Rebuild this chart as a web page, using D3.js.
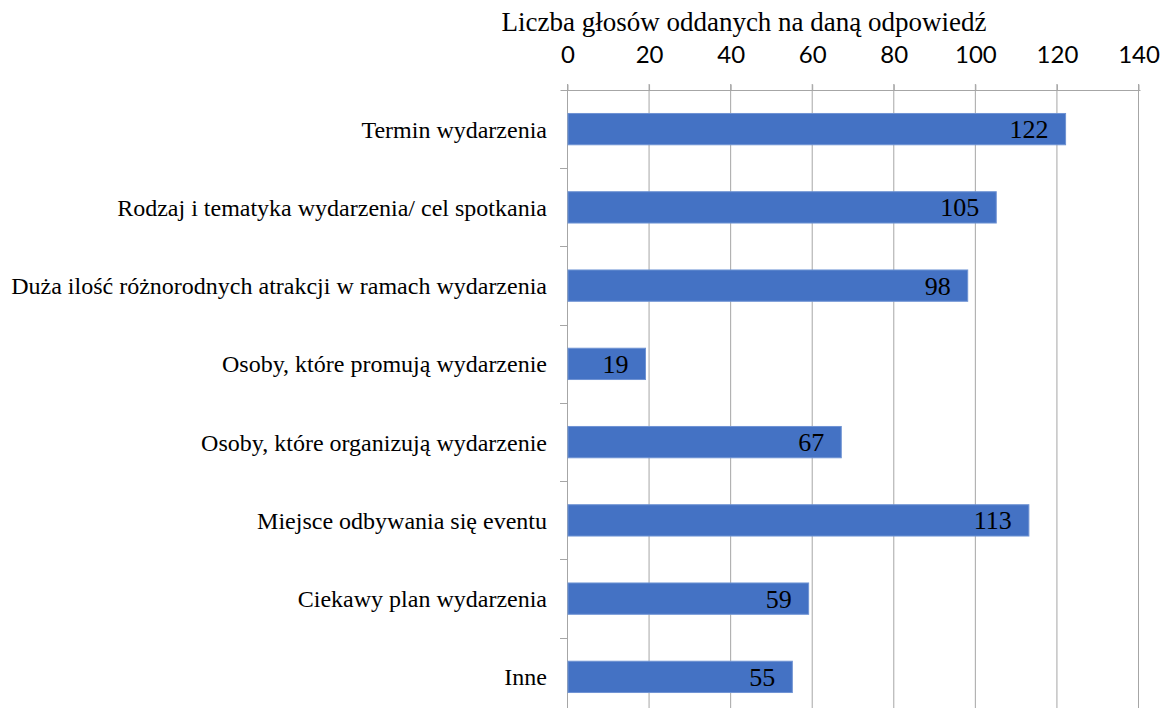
<!DOCTYPE html>
<html>
<head>
<meta charset="utf-8">
<script src="https://cdn.jsdelivr.net/npm/d3@7"></script>
<style>
  body { margin: 0; background: #fff; }
  .tick line { stroke: #a6a6a6; }
  .domain { stroke: #a6a6a6; }
</style>
</head>
<body>
<div id="chart"></div>
<script>
// data
var categories = [
  "Termin wydarzenia",
  "Rodzaj i tematyka wydarzenia/ cel spotkania",
  "Duża ilość różnorodnych atrakcji w ramach wydarzenia",
  "Osoby, które promują wydarzenie",
  "Osoby, które organizują wydarzenie ",
  "Miejsce odbywania się eventu",
  "Ciekawy plan wydarzenia",
  "Inne"
];
var votes = [122, 105, 98, 19, 67, 113, 59, 55];
var xTicks = [0, 20, 40, 60, 80, 100, 120, 140];
var axisTitle = "Liczba głosów oddanych na daną odpowiedź";

var W = 1160, H = 708;
var margin = {top: 90, left: 567};
var serif = "'Liberation Serif'";

var svg = d3.select("#chart").append("svg")
  .attr("width", W)
  .attr("height", H);

var x = d3.scaleLinear()
  .domain([0, 140])
  .range([margin.left, 1138]);

var y = d3.scaleBand()
  .domain(categories)
  .range([margin.top, 716])
  .paddingInner(0.6)
  .paddingOuter(0.3);

var step = y.step();

// vertical gridlines
svg.append("g")
  .selectAll("line")
  .data(xTicks.slice(1))
  .enter()
  .append("line")
    .attr("x1", function(d) { return x(d) + 0.5; })
    .attr("x2", function(d) { return x(d) + 0.5; })
    .attr("y1", margin.top - 6)
    .attr("y2", H)
    .attr("stroke", "#a6a6a6")
    .attr("stroke-width", 1);

// top axis
var xAxis = svg.append("g")
  .attr("transform", "translate(0.5," + (margin.top + 0.5) + ")")
  .call(d3.axisTop(x).tickValues(xTicks).tickSize(6).tickSizeOuter(0).tickPadding(22));
xAxis.select(".domain").attr("d", "M" + (x(0) - 7) + ",0H" + (x(140) + 2));
xAxis.selectAll("text")
  .style("font-family", "Lato, 'Open Sans', sans-serif")
  .style("font-size", "24px")
  .attr("fill", "#000");

// left axis line with ticks between categories
svg.append("line")
  .attr("x1", x(0) + 0.5).attr("x2", x(0) + 0.5)
  .attr("y1", margin.top - 6).attr("y2", H)
  .attr("stroke", "#a6a6a6");
svg.append("g")
  .selectAll("line")
  .data(categories.slice(1))
  .enter()
  .append("line")
    .attr("x1", x(0) - 7)
    .attr("x2", x(0))
    .attr("y1", function(d) { return Math.round(y(d) - step * 0.3) + 0.5; })
    .attr("y2", function(d) { return Math.round(y(d) - step * 0.3) + 0.5; })
    .attr("stroke", "#a6a6a6");

// category labels
svg.append("g")
  .selectAll("text")
  .data(categories)
  .enter()
  .append("text")
    .attr("x", x(0) - 20)
    .attr("y", function(d) { return y(d) + y.bandwidth() / 2; })
    .attr("dy", "0.35em")
    .attr("text-anchor", "end")
    .style("font-family", serif)
    .style("font-size", "24px")
    .attr("fill", "#000")
    .text(function(d) { return d.trim(); });

// bars
svg.append("g")
  .selectAll("rect")
  .data(votes)
  .enter()
  .append("rect")
    .attr("x", x(0) + 1)
    .attr("y", function(d, i) { return y(categories[i]); })
    .attr("width", function(d) { return x(d) - x(0); })
    .attr("height", y.bandwidth())
    .attr("fill", "#4472c4")
    .attr("stroke", "#6f93d3")
    .attr("stroke-width", 1);

// value labels
svg.append("g")
  .selectAll("text")
  .data(votes)
  .enter()
  .append("text")
    .attr("x", function(d) { return x(d) - 16; })
    .attr("y", function(d, i) { return y(categories[i]) + y.bandwidth() / 2; })
    .attr("dy", "0.35em")
    .attr("text-anchor", "end")
    .style("font-family", serif)
    .style("font-size", "26px")
    .attr("fill", "#000")
    .text(function(d) { return d; });

// axis title
svg.append("text")
  .attr("x", 744)
  .attr("y", 31)
  .attr("text-anchor", "middle")
  .style("font-family", serif)
  .style("font-size", "27px")
  .attr("fill", "#000")
  .text(axisTitle);
</script>
</body>
</html>
